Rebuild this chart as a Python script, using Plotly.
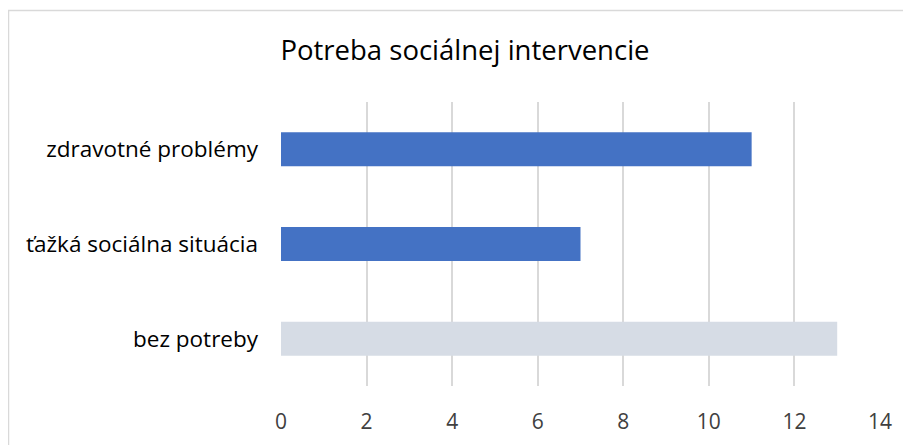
import plotly.graph_objects as go

categories = ["zdravotné problémy", "ťažká sociálna situácia", "bez potreby"]
values = [11, 7, 13]
colors = ["#4472C4", "#4472C4", "#D6DCE5"]
x_ticks = [0, 2, 4, 6, 8, 10, 12, 14]

OFF = 8  # page body margin
W, H = 911, 445
L, T = 281 - OFF, 102 - OFF
R = W - (880 - OFF)
B = H - (386 - OFF)
pw, ph = W - L - R, H - T - B

fig = go.Figure(go.Bar(
    y=categories, x=values, orientation="h",
    marker=dict(color=colors, line=dict(width=0)),
))

fig.update_layout(
    template="none",
    width=W, height=H,
    margin=dict(l=L, r=R, t=T, b=B, autoexpand=False),
    paper_bgcolor="white", plot_bgcolor="white",
    font=dict(family="Open Sans", color="#000000"),
    title=dict(text="Potreba sociálnej intervencie", x=(465 - OFF) / W, xanchor="center",
               y=1 - (50 - OFF) / H, yanchor="middle", font=dict(size=27.5, color="#000000")),
    bargap=0.64,
    showlegend=False,
    shapes=[dict(type="rect", xref="paper", yref="paper",
                 x0=(8.5 - 281) / pw, x1=(980 - 281) / pw,
                 y0=(386 - 520) / ph, y1=(386 - 10.5) / ph,
                 line=dict(color="#D9D9D9", width=1.5), fillcolor="rgba(0,0,0,0)")],
)
fig.update_xaxes(range=[0, 14], tickvals=x_ticks, showgrid=True, gridcolor="#D9D9D9",
                 gridwidth=1.5, zeroline=False, showline=False, ticks="", automargin=False,
                 tickfont=dict(size=21, color="#404040"), ticklabelstandoff=21)
fig.update_yaxes(autorange="reversed", showgrid=False, showline=False, ticks="", automargin=False,
                 tickfont=dict(size=22.5, color="#000000"), ticklabelstandoff=22)

fig.write_html("out.html")
